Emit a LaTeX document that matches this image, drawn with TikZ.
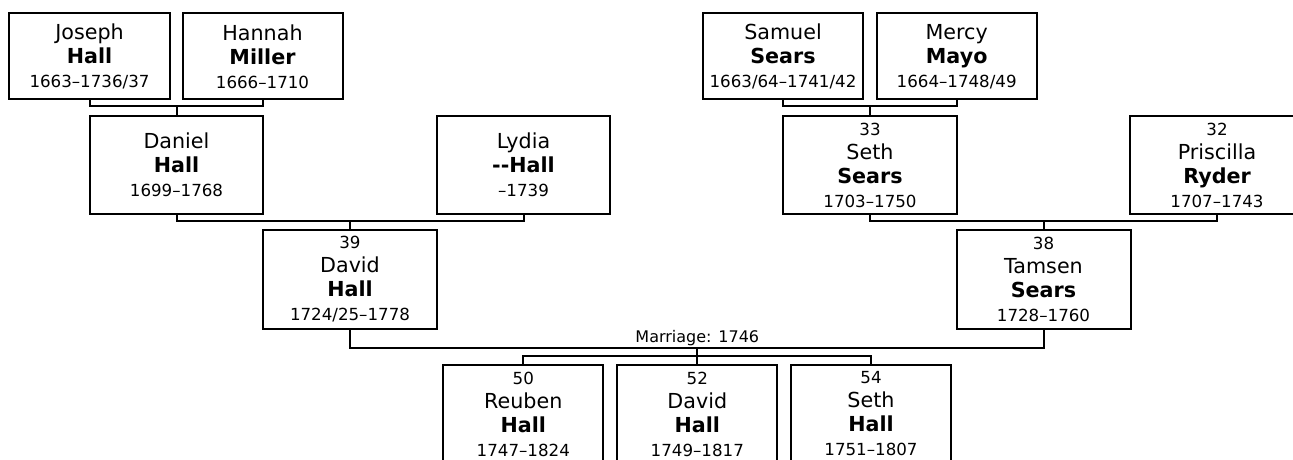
\documentclass[tikz,border=0pt]{standalone}
\usepackage{fontspec}
\setmainfont{DejaVu Sans}
\usetikzlibrary{calc}
\newcommand\datefont{\fontsize{12.5}{18}\selectfont}
\newcommand\pthree[3]{#1\\\textbf{#2}\\{\datefont #3}}
\newcommand\pfour[4]{{\datefont #1}\\#2\\\textbf{#3}\\{\datefont #4}}
\tikzset{
  pbox/.style={draw, line width=1.5pt, rectangle, inner sep=0pt, align=center,
    font=\fontsize{15.5}{18}\selectfont},
  topbox/.style={pbox, minimum width=160*0.75pt, minimum height=86*0.75pt},
  midbox/.style={pbox, minimum width=174*0.75pt, minimum height=98*0.75pt},
  kidbox/.style={pbox, minimum width=160*0.75pt, minimum height=98*0.75pt},
  link/.style={line width=1.5pt},
}
\begin{document}
\begin{tikzpicture}[x=0.75pt,y=-0.75pt]
\useasboundingbox (0,0) rectangle (1293,460);
\clip (0,0) rectangle (1293,460);
% generation 1
\node[topbox, minimum width=161*0.75pt] (joseph) at (89.5,56.5) {\pthree{Joseph}{Hall}{1663–1736/37}};
\node[topbox] (hannah) at (262.5,56.5) {\pthree{Hannah}{Miller}{1666–1710}};
\node[topbox] (samuel) at (783,56.5) {\pthree{Samuel}{Sears}{1663/64–1741/42}};
\node[topbox] (mercy) at (956.7,56.5) {\pthree{Mercy}{Mayo}{1664–1748/49}};
% generation 2
\node[midbox, minimum width=173*0.75pt] (daniel) at (176.5,165) {\pthree{Daniel}{Hall}{1699–1768}};
\node[midbox, minimum width=173*0.75pt] (lydia) at (523.5,165) {\pthree{Lydia}{-{}-Hall}{–1739}};
\node[midbox] (seth) at (870,165) {\pfour{33}{Seth}{Sears}{1703–1750}};
\node[midbox] (priscilla) at (1217,165) {\pfour{32}{Priscilla}{Ryder}{1707–1743}};
% generation 3
\node[midbox, minimum height=99*0.75pt] (david) at (350,279.5) {\pfour{39}{David}{Hall}{1724/25–1778}};
\node[midbox, minimum height=99*0.75pt] (tamsen) at (1043.5,279.5) {\pfour{38}{Tamsen}{Sears}{1728–1760}};
% generation 4
\node[kidbox] (reuben) at (523.3,414) {\pfour{50}{Reuben}{Hall}{1747–1824}};
\node[kidbox] (davidj) at (697.3,414) {\pfour{52}{David}{Hall}{1749–1817}};
\node[kidbox] (sethj) at (871,414) {\pfour{54}{Seth}{Hall}{1751–1807}};
% junction points
\path (daniel.north) ++(0,-9) coordinate (j1);
\path (seth.north) ++(0,-9) coordinate (j2);
\path (david.north) ++(0,-8) coordinate (j3);
\path (tamsen.north) ++(0,-8) coordinate (j4);
\path (davidj.north) ++(0,-16) coordinate (j5);
\path (davidj.north) ++(0,-8) coordinate (j6);
% connectors
\draw[link] (joseph.south) |- (j1) -| (hannah.south);
\draw[link] (j1) -- (daniel.north);
\draw[link] (samuel.south) |- (j2) -| (mercy.south);
\draw[link] (j2) -- (seth.north);
\draw[link] (daniel.south) |- (j3) -| (lydia.south);
\draw[link] (j3) -- (david.north);
\draw[link] (seth.south) |- (j4) -| (priscilla.south);
\draw[link] (j4) -- (tamsen.north);
\draw[link] (david.south) |- (j5) -| (tamsen.south);
\draw[link] (j5) -- (j6);
\draw[link] (reuben.north) |- (j6) -| (sethj.north);
\draw[link] (j6) -- (davidj.north);
\node[anchor=south, inner sep=1.5pt, font=\fontsize{12}{14}\selectfont] (marr) at (j5) {Marriage: 1746};
\end{tikzpicture}
\end{document}
